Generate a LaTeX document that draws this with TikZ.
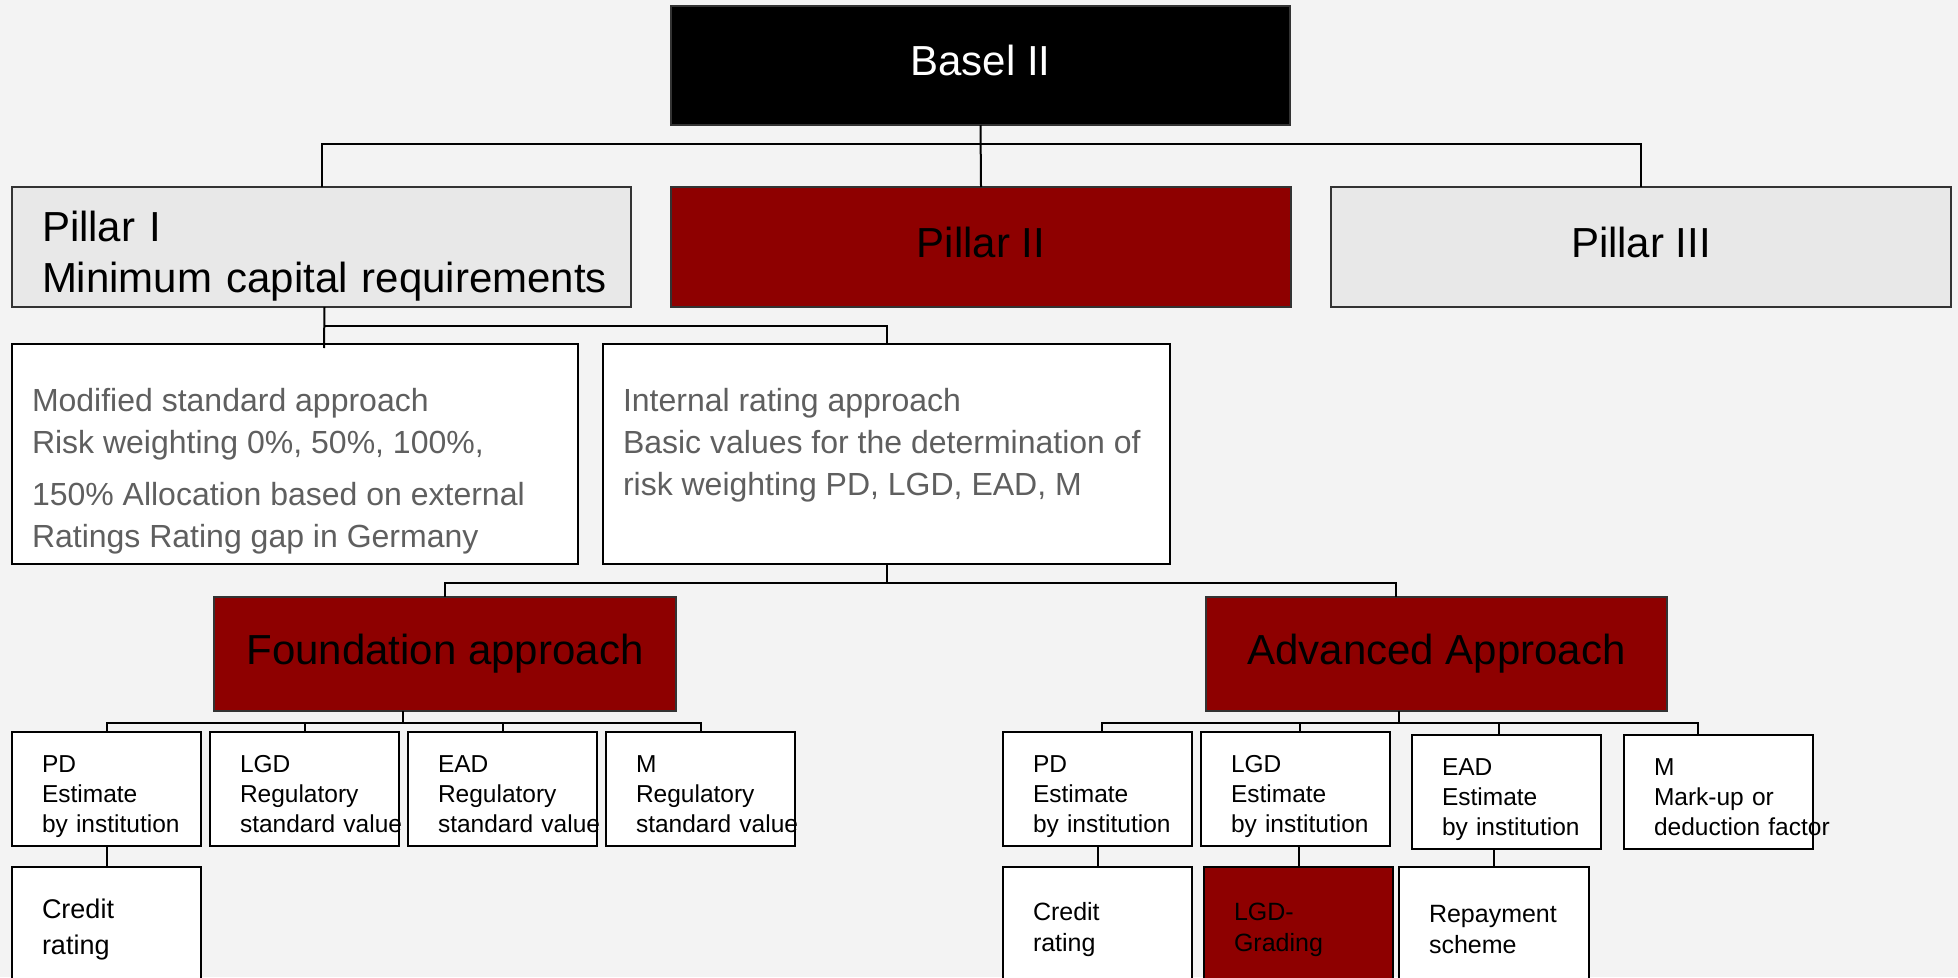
\documentclass[tikz,border=0pt]{standalone}
\usepackage{fontspec}
\setmainfont{Liberation Sans}
\definecolor{paper}{HTML}{F3F3F3}
\definecolor{pale}{HTML}{E8E8E8}
\definecolor{wine}{HTML}{8E0000}
\definecolor{ink}{HTML}{5F5F5F}
\begin{document}
\begin{tikzpicture}[x=1pt, y=-1pt, line width=2pt,
		box/.style={draw, fill=white, anchor=north west, inner sep=0pt, outer sep=0pt},
		head/.style={box, draw=black!80, font=\fontsize{42}{51}\selectfont, text height=30pt, text depth=10pt},
		kid/.style={box, minimum width=189pt, minimum height=114pt, text width=129pt, align=left,
			font=\fontsize{24.5}{30}\selectfont, text height=32pt, text depth=65pt},
		leaf/.style={box, minimum width=189pt, minimum height=126pt, text width=129pt, align=left,
			font=\fontsize{25}{31}\selectfont},
		note/.style={anchor=north west, inner sep=0pt, align=left, text=ink,
			font=\fontsize{32}{42}\selectfont},
		execute at begin node={\hyphenpenalty=10000\exhyphenpenalty=10000}
		]
	\useasboundingbox (0,0) rectangle (1958,977);
	\clip (0,0) rectangle (1958,977);
	\fill [paper] (0,0) rectangle (1958,977);

	\node [head, fill=black, text=white, minimum width=619pt, minimum height=119pt] (basel) at (671,6) {Basel II};
	\node [head, fill=pale, minimum width=619pt, minimum height=120pt, text width=559pt, align=left,
		text height=48pt, text depth=60pt] (p1) at (12,187) {Pillar I\\Minimum~capital~requirements};
	\node [head, fill=wine, minimum width=620pt, minimum height=120pt] (p2) at (671,187) {Pillar II};
	\node [head, fill=pale, minimum width=620pt, minimum height=120pt] (p3) at (1331,187) {Pillar III};

	\node [box, minimum width=566pt, minimum height=220pt] (msa) at (12,344) {};
	\node [box, minimum width=567pt, minimum height=220pt] (ira) at (603,344) {};
	\node [note] (msat) at ([shift={(19,43)}]msa.north west)
		{Modified standard approach\\Risk weighting 0\%, 50\%, 100\%,\\[10pt]150\% Allocation based on external\\Ratings Rating gap in Germany};
	\node [note] (irat) at ([shift={(19,43)}]ira.north west)
		{Internal rating approach\\Basic values for the determination of\\risk weighting PD, LGD, EAD, M};

	\node [head, fill=wine, minimum width=462pt, minimum height=114pt] (fa) at (214,597) {Foundation approach};
	\node [head, fill=wine, minimum width=461pt, minimum height=114pt] (aa) at (1206,597) {Advanced Approach};

	\node [kid] (fpd) at (12,732) {PD\\Estimate\\by~institution};
	\node [kid] (flgd) at (210,732) {LGD\\Regulatory\\standard~value};
	\node [kid] (fead) at (408,732) {EAD\\Regulatory\\standard~value};
	\node [kid] (fm) at (606,732) {M\\Regulatory\\standard~value};
	\node [kid] (apd) at (1003,732) {PD\\Estimate\\by~institution};
	\node [kid] (algd) at (1201,732) {LGD\\Estimate\\by~institution};
	\node [kid] (aead) at (1412,735) {EAD\\Estimate\\by~institution};
	\node [kid] (am) at (1624,735) {M\\Mark-up or\\deduction~factor};

	\node [leaf, font=\fontsize{27}{36}\selectfont] (fcr) at (12,867) {Credit\\rating};
	\node [leaf] (acr) at (1003,867) {Credit\\rating};
	\node [leaf, fill=wine] (algdg) at (1204,867) {LGD-\\Grading};
	\node [leaf, minimum width=190pt, text width=130pt] (arep) at (1399,867) {Repayment\\scheme};

	\draw (basel.south) -- (p2.north);
	\draw (p1.north) -- ++(0,-43) -| (p3.north);
	\draw ([xshift=3pt]p1.south) -- ([xshift=29pt,yshift=-4pt]msa.north);
	\draw ([xshift=3pt]p1.south) ++(0,19) -| (ira.north);
	\draw (ira.south) -- ++(0,19) -| (fa.north);
	\draw (ira.south) ++(0,19) -| ([xshift=-41pt]aa.north);

	\draw ([xshift=-42pt]fa.south) -- ++(0,12) coordinate (fbus);
	\foreach \k in {fpd,flgd,fead,fm}
		\draw (fbus) -| (\k.north);
	\draw ([xshift=-38pt]aa.south) -- ++(0,12) coordinate (abus);
	\foreach \k/\s in {apd/4,algd/4,aead/-8,am/-21}
		\draw (abus) -| ([xshift=\s pt]\k.north);

	\draw (fpd.south) -- (fcr.north);
	\draw (apd.south) -- (acr.north);
	\draw ([xshift=3pt]algd.south) -- (algdg.north);
	\draw (arep.north) -- (arep.north |- aead.south);
\end{tikzpicture}
\end{document}
